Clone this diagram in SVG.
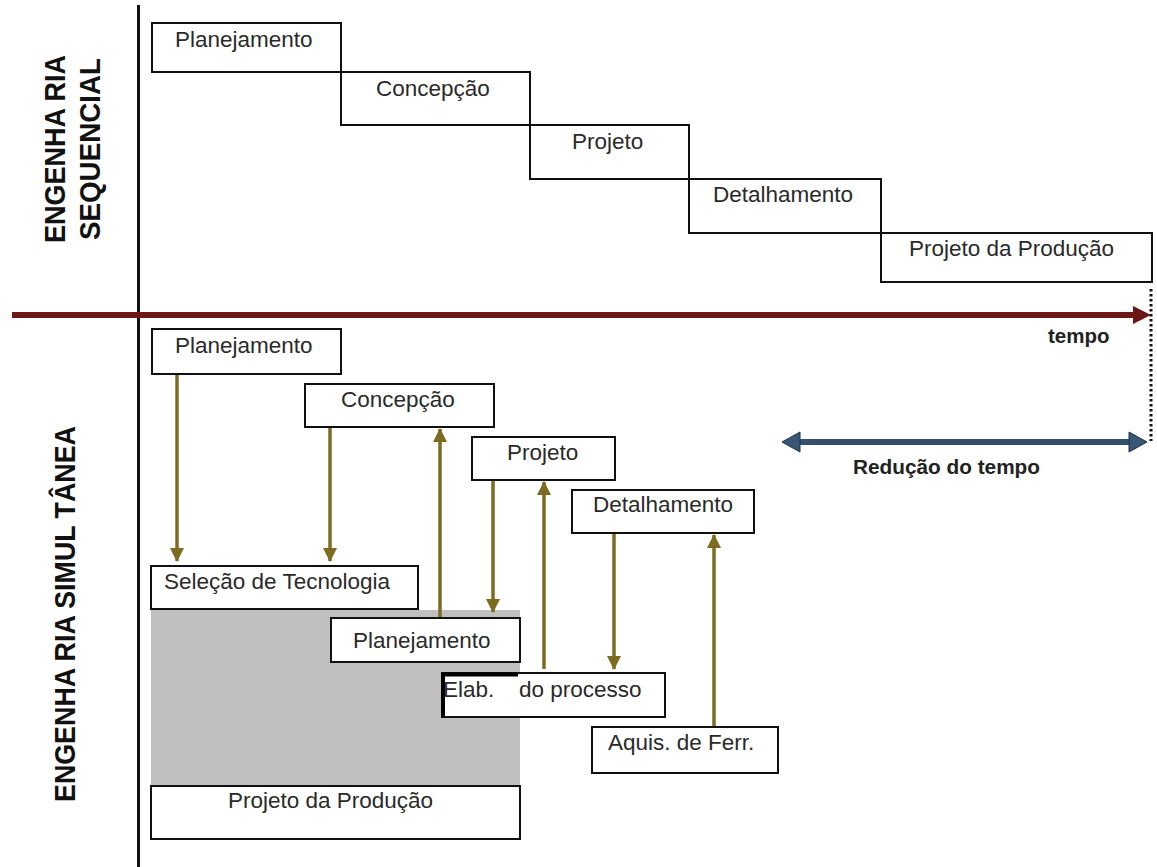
<svg xmlns="http://www.w3.org/2000/svg" width="1157" height="867" viewBox="0 0 1157 867">
  <defs>
    <style>
      .box { fill: #ffffff; stroke: #111111; stroke-width: 2; }
      .lbl { font-family: "Liberation Sans", Arial, sans-serif; font-size: 22.5px; fill: #2a2a2a; }
      .side { font-family: "Liberation Sans", Arial, sans-serif; font-size: 29px; font-weight: bold; fill: #111111; }
      .bold { font-family: "Liberation Sans", Arial, sans-serif; font-weight: bold; fill: #222222; }
      .flow { stroke: #7d6b20; stroke-width: 3.5; fill: none; }
    </style>
    <marker id="head" markerUnits="userSpaceOnUse" markerWidth="14" markerHeight="14" viewBox="0 0 14 14" refX="13" refY="7" orient="auto">
      <path d="M0,0 L14,7 L0,14 Z" fill="#7d6b20"/>
    </marker>
  </defs>

  <rect x="0" y="0" width="1157" height="867" fill="#ffffff"/>

  <!-- vertical axis -->
  <line x1="138.5" y1="5" x2="138.5" y2="867" stroke="#111111" stroke-width="3"/>

  <!-- side titles -->
  <g id="title-seq">
    <text class="side" transform="translate(65,149) rotate(-90)" text-anchor="middle" textLength="188" lengthAdjust="spacingAndGlyphs">ENGENHA RIA</text>
    <text class="side" transform="translate(100,149) rotate(-90)" text-anchor="middle" textLength="182" lengthAdjust="spacingAndGlyphs">SEQUENCIAL</text>
  </g>
  <g id="title-sim">
    <text class="side" transform="translate(75,614) rotate(-90)" text-anchor="middle" textLength="376" lengthAdjust="spacingAndGlyphs">ENGENHA RIA  SIMUL TÂNEA</text>
  </g>

  <!-- sequential engineering staircase -->
  <g id="seq-planejamento">
    <rect class="box" x="152" y="23" width="189" height="49"/>
    <text class="lbl" x="175" y="47">Planejamento</text>
  </g>
  <g id="seq-concepcao">
    <rect class="box" x="341" y="72" width="189" height="53"/>
    <text class="lbl" x="376" y="96">Concepção</text>
  </g>
  <g id="seq-projeto">
    <rect class="box" x="530" y="125" width="159" height="54"/>
    <text class="lbl" x="572" y="149">Projeto</text>
  </g>
  <g id="seq-detalhamento">
    <rect class="box" x="689" y="179" width="192" height="54"/>
    <text class="lbl" x="713" y="202">Detalhamento</text>
  </g>
  <g id="seq-producao">
    <rect class="box" x="881" y="233" width="271" height="49"/>
    <text class="lbl" x="909" y="256">Projeto da Produção</text>
  </g>

  <!-- time axis -->
  <g id="time-axis">
    <line x1="12" y1="315" x2="1136" y2="315" stroke="#6e1818" stroke-width="6"/>
    <polygon points="1151,315 1133,306 1133,324" fill="#6a1616"/>
    <line x1="1151" y1="289" x2="1151" y2="441" stroke="#111111" stroke-width="3" stroke-dasharray="2.5 2.5"/>
    <text class="bold" x="1048" y="343" font-size="20.5">tempo</text>
  </g>

  <!-- time reduction -->
  <g id="time-reduction">
    <line x1="798" y1="442" x2="1131" y2="442" stroke="#34506f" stroke-width="6"/>
    <polygon points="782,442 800,432 800,452" fill="#3a5676" stroke="#1e3048" stroke-width="1"/>
    <polygon points="1147,442 1129,432 1129,452" fill="#3a5676" stroke="#1e3048" stroke-width="1"/>
    <text class="bold" x="853" y="474" font-size="21" textLength="187" lengthAdjust="spacingAndGlyphs">Redução do tempo</text>
  </g>

  <!-- simultaneous engineering -->
  <rect id="overlap-area" x="151" y="610" width="369" height="176" fill="#c0c0c0"/>

  <g id="sim-planejamento">
    <rect class="box" x="152" y="329" width="189" height="45"/>
    <text class="lbl" x="175" y="353">Planejamento</text>
  </g>
  <g id="sim-concepcao">
    <rect class="box" x="305" y="384" width="189" height="43"/>
    <text class="lbl" x="341" y="407">Concepção</text>
  </g>
  <g id="sim-projeto">
    <rect class="box" x="472" y="437" width="143" height="43"/>
    <text class="lbl" x="507" y="460">Projeto</text>
  </g>
  <g id="sim-detalhamento">
    <rect class="box" x="572" y="490" width="182" height="43"/>
    <text class="lbl" x="593" y="512">Detalhamento</text>
  </g>
  <g id="sim-selecao">
    <rect class="box" x="151" y="566" width="267" height="43"/>
    <text class="lbl" x="164" y="589">Seleção de Tecnologia</text>
  </g>
  <g id="sim-planejamento-proc">
    <rect class="box" x="331" y="618" width="189" height="44"/>
    <text class="lbl" x="353" y="648" font-size="20">Planejamento</text>
  </g>
  <g id="sim-elab">
    <rect class="box" x="442" y="673" width="223" height="44"/>
    <path d="M443,673 V717 M441,674.5 H518" stroke="#000000" stroke-width="4" fill="none"/>
    <text class="lbl" y="697"><tspan x="443">Elab.</tspan><tspan x="519">do processo</tspan></text>
  </g>
  <g id="sim-aquis">
    <rect class="box" x="592" y="727" width="186" height="46"/>
    <text class="lbl" x="608" y="750">Aquis. de Ferr.</text>
  </g>
  <g id="sim-producao">
    <rect class="box" x="151" y="786" width="369" height="53"/>
    <text class="lbl" x="228" y="808">Projeto da Produção</text>
  </g>

  <!-- information flows -->
  <g id="connectors">
    <line class="flow" x1="177" y1="375" x2="177" y2="561" marker-end="url(#head)"/>
    <line class="flow" x1="330" y1="428" x2="330" y2="561" marker-end="url(#head)"/>
    <line class="flow" x1="440" y1="617" x2="440" y2="429" marker-end="url(#head)"/>
    <line class="flow" x1="493" y1="481" x2="493" y2="612" marker-end="url(#head)"/>
    <line class="flow" x1="544" y1="669" x2="544" y2="482" marker-end="url(#head)"/>
    <line class="flow" x1="614" y1="534" x2="614" y2="669" marker-end="url(#head)"/>
    <line class="flow" x1="714" y1="726" x2="714" y2="535" marker-end="url(#head)"/>
  </g>
</svg>
